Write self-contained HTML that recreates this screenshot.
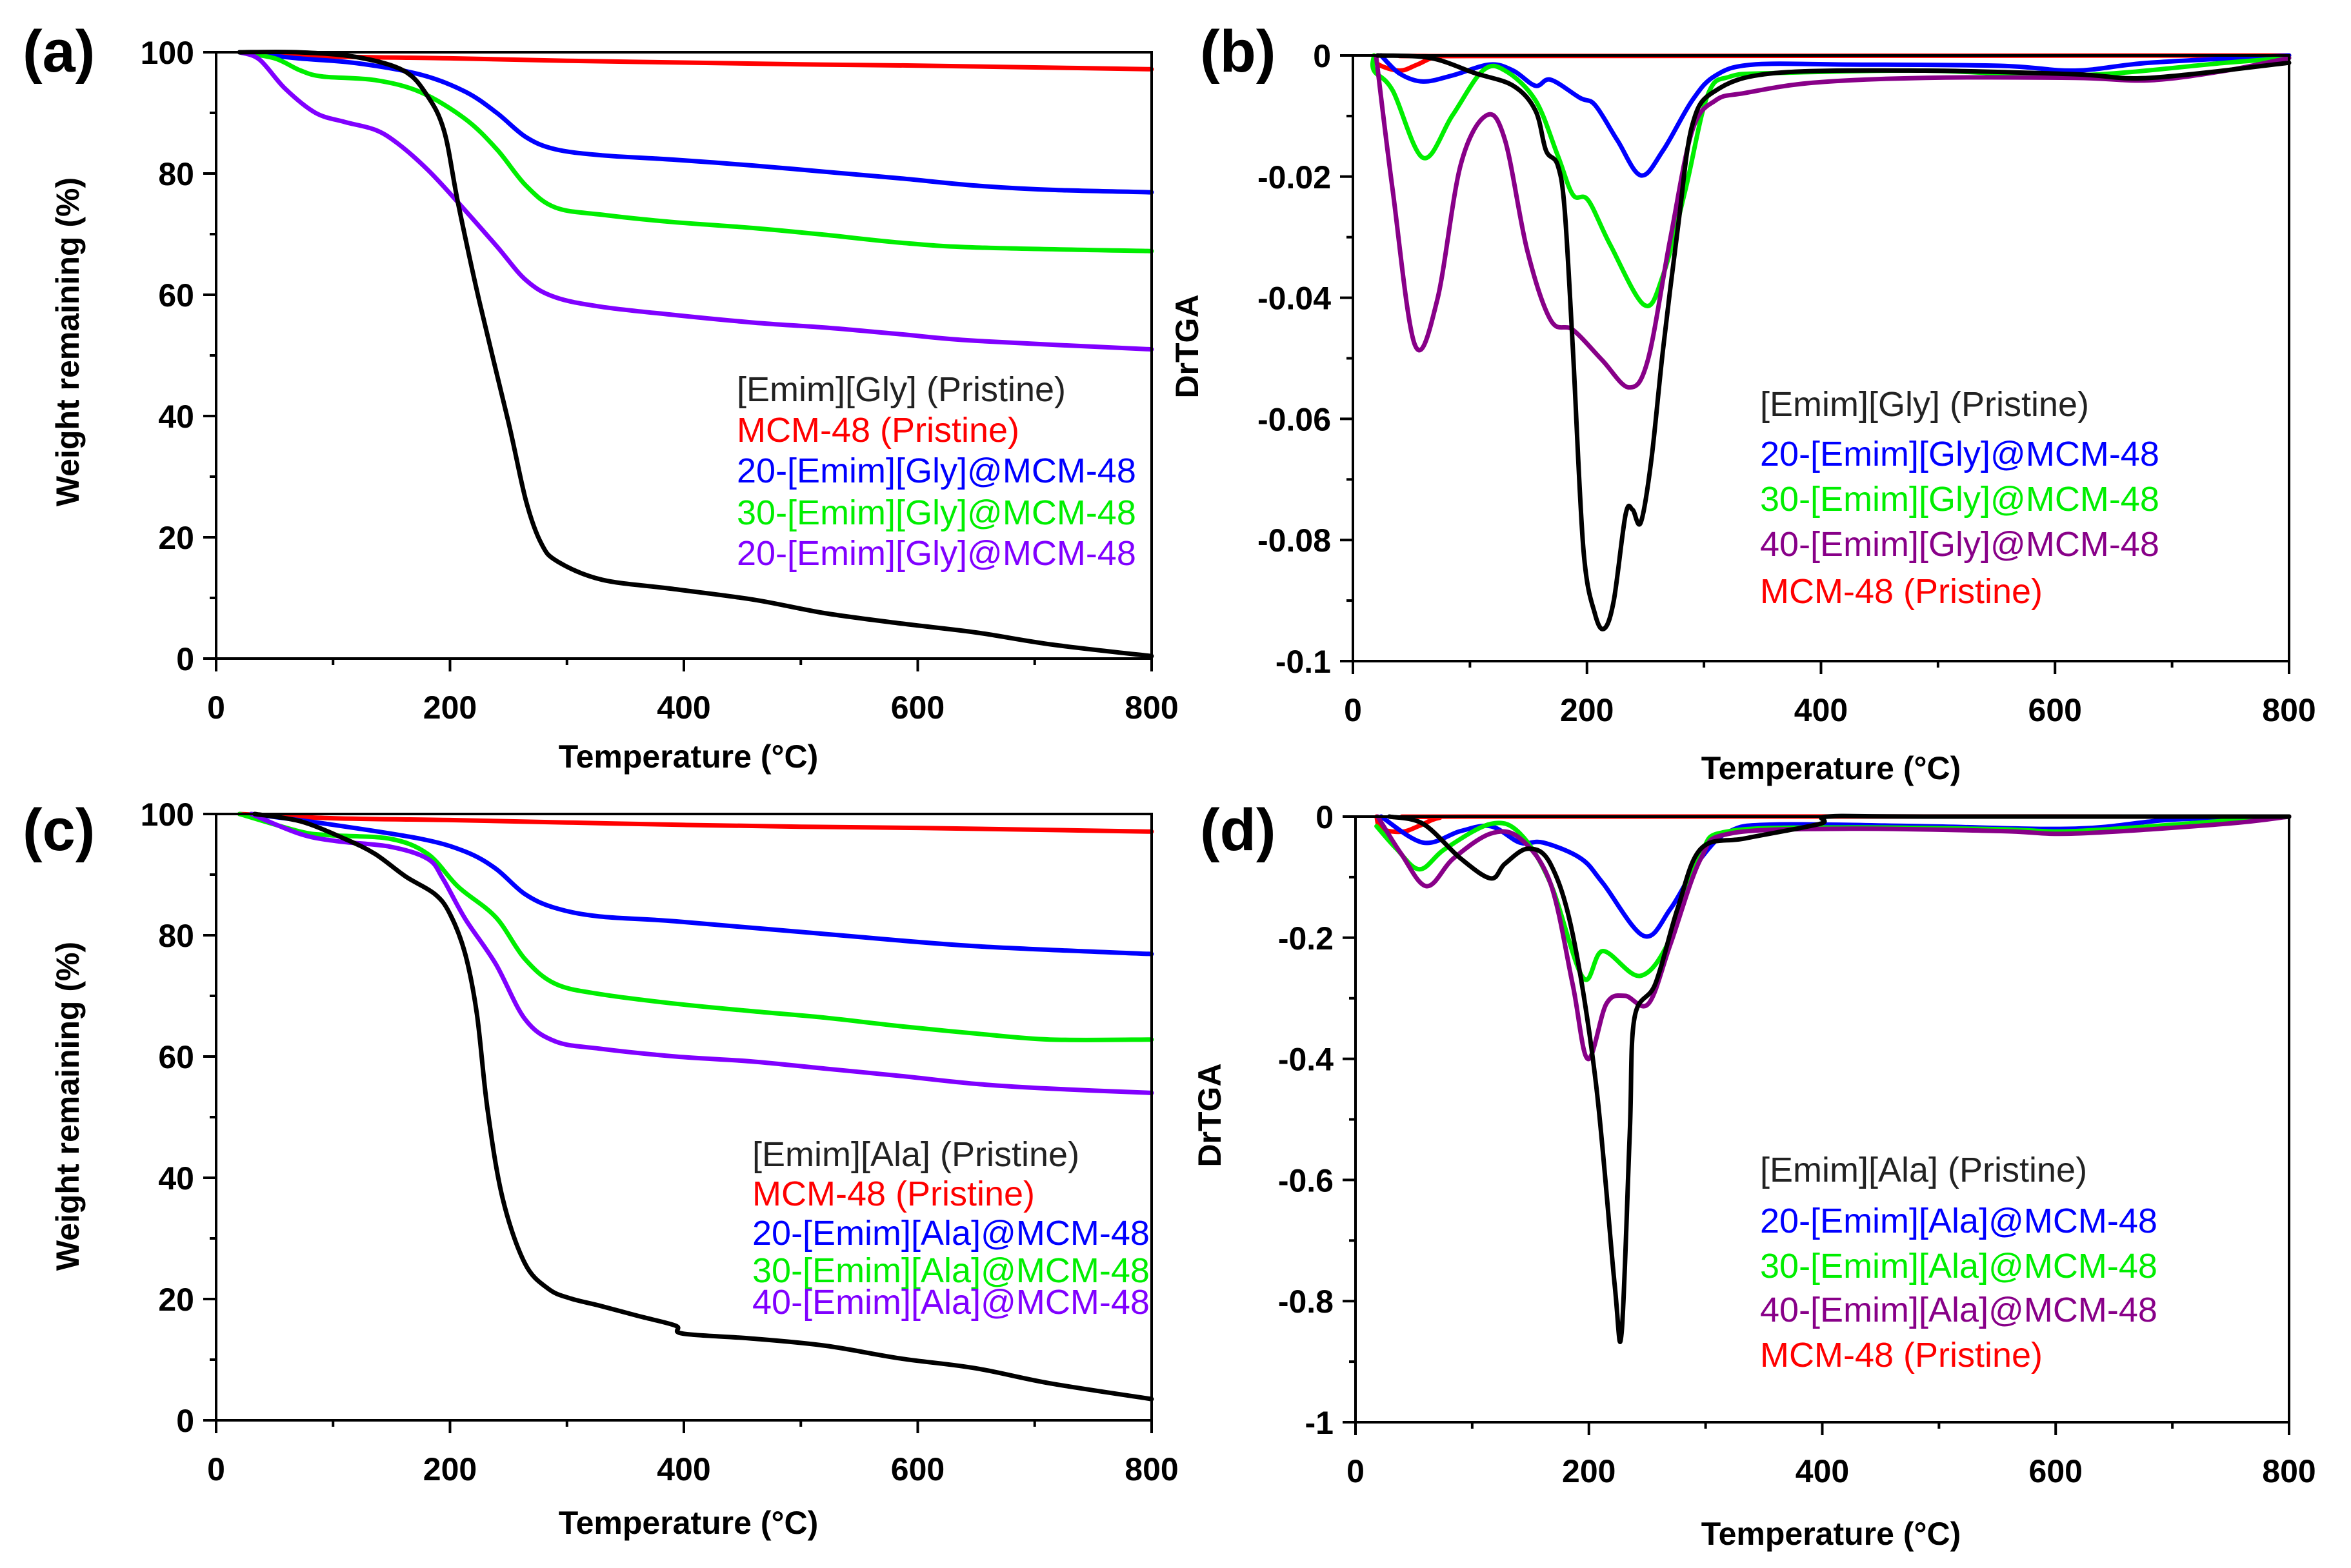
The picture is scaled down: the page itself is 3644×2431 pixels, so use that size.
<!DOCTYPE html>
<html><head><meta charset="utf-8"><style>
html,body{margin:0;padding:0;background:#fff;}
svg{display:block;font-family:"Liberation Sans",Arial,sans-serif;}
</style></head><body>
<svg id="fig" width="3644" height="2431" viewBox="0 0 3644 2431" xmlns="http://www.w3.org/2000/svg"></svg>
<script>
// ---- Panel (a) data: TGA [Emim][Gly] ----
const aBlack=[[20,100],[70,100],[120,99.2],[160,97],[180,93],[195,87],[207,75],[225,59],[250,39],[265,26],[278,19],[292,16],[330,13],[390,11.5],[460,9.7],[520,7.5],[585,5.8],[650,4.3],[715,2.3],[800,0.4]];
const aRed=[[20,100],[100,99.3],[200,99],[300,98.6],[400,98.3],[500,98],[600,97.8],[700,97.5],[800,97.2]];
const aBlue=[[20,100],[70,99],[120,98.2],[175,96.3],[213,93.5],[240,90],[265,86],[290,84],[330,83],[390,82.3],[460,81.3],[520,80.3],[585,79.2],[650,78],[715,77.3],[800,76.9]];
const aGreen=[[20,100],[50,99],[72,97],[91,96],[136,95.4],[175,93.4],[213,89],[240,84],[265,78],[290,74.4],[330,73.2],[390,72],[460,71],[520,69.9],[585,68.6],[650,67.8],[800,67.2]];
const aPurple=[[20,100],[37,98.8],[59,94],[85,90],[110,88.5],[136,87.2],[155,85],[181,80.6],[207,75.2],[240,68],[265,62.4],[290,59.6],[330,58],[390,56.7],[460,55.4],[520,54.6],[585,53.5],[650,52.4],[800,51]];
// ---- Panel (b) data: DrTGA [Emim][Gly] ----
const bRed=[[18,0],[22,-0.0015],[40,-0.0025],[55,-0.0015],[72,-0.0002],[100,-0.0001],[800,0]];
const bBlue=[[24,0],[40,-0.003],[60,-0.0043],[85,-0.0033],[117,-0.0015],[137,-0.0025],[156,-0.005],[169,-0.004],[194,-0.007],[207,-0.0082],[226,-0.014],[246,-0.0198],[265,-0.0157],[290,-0.0074],[310,-0.0033],[342,-0.0015],[425,-0.0015],[553,-0.0017],[617,-0.0025],[681,-0.0012],[800,0]];
const bGreen=[[18,0],[18,-0.0025],[34,-0.0058],[60,-0.0169],[85,-0.0099],[111,-0.0025],[130,-0.0025],[156,-0.0074],[175,-0.0165],[188,-0.023],[201,-0.0239],[220,-0.0313],[249,-0.0412],[265,-0.0363],[284,-0.0223],[303,-0.0066],[322,-0.0035],[361,-0.0029],[489,-0.0025],[617,-0.0033],[746,-0.0012],[800,-0.0004]];
const bPurple=[[20,-0.0004],[34,-0.0223],[53,-0.0478],[72,-0.0404],[92,-0.0181],[114,-0.0099],[130,-0.014],[149,-0.0322],[169,-0.0437],[188,-0.0453],[213,-0.0503],[236,-0.0548],[252,-0.0503],[271,-0.0305],[290,-0.0124],[310,-0.0074],[335,-0.0062],[393,-0.0045],[489,-0.0037],[617,-0.0037],[681,-0.0041],[746,-0.0025],[800,-0.0004]];
const bBlack=[[21,0],[66,-0.0004],[104,-0.0029],[137,-0.005],[156,-0.0091],[165,-0.0157],[175,-0.0181],[181,-0.0256],[188,-0.0486],[197,-0.0816],[207,-0.0923],[215,-0.0946],[223,-0.0899],[233,-0.0758],[239,-0.075],[246,-0.0771],[255,-0.0668],[265,-0.0486],[278,-0.028],[290,-0.0115],[310,-0.0058],[361,-0.0029],[489,-0.0025],[617,-0.0031],[681,-0.0037],[800,-0.0012]];
// ---- Panel (c) data: TGA [Emim][Ala] ----
const cRed=[[20,100],[100,99.3],[200,99],[300,98.6],[400,98.2],[500,97.9],[600,97.7],[700,97.4],[800,97.1]];
const cBlue=[[30,100],[97,98.3],[175,95.9],[213,93.8],[239,91],[264,86.8],[290,84.5],[328,83.1],[393,82.3],[521,80.2],[649,78.2],[800,76.9]];
const cGreen=[[20,100],[72,97.1],[97,96.5],[149,95.9],[181,93.4],[207,88],[239,83],[264,76.1],[290,72],[328,70.3],[393,68.7],[457,67.5],[521,66.4],[585,65],[649,63.8],[713,62.8],[800,62.8]];
const cPurple=[[30,100],[72,96.7],[104,95.5],[149,94.6],[181,92.6],[194,89.3],[213,82.7],[239,75.3],[264,66.2],[290,62.5],[328,61.3],[393,60],[457,59.2],[521,58],[585,56.8],[649,55.5],[713,54.7],[800,54]];
const cBlack=[[33,100],[72,98.8],[110,95.9],[136,93.4],[162,89.7],[187,86.8],[200,83.5],[213,76.9],[223,67],[232,51.4],[245,36.6],[264,25.9],[284,21.7],[303,20.1],[328,18.9],[361,17.2],[393,15.6],[399,14.3],[457,13.5],[521,12.3],[585,10.2],[649,8.6],[713,6.1],[800,3.5]];
// ---- Panel (d) data: DrTGA [Emim][Ala] ----
const dRed=[[18,0],[22,-0.02],[40,-0.025],[55,-0.015],[72,-0.002],[100,0],[800,0]];
const dBlue=[[22,0],[58,-0.043],[90,-0.024],[116,-0.016],[141,-0.043],[161,-0.043],[193,-0.069],[212,-0.11],[247,-0.197],[270,-0.152],[296,-0.069],[321,-0.024],[360,-0.013],[488,-0.016],[617,-0.02],[700,-0.005],[800,0]];
const dGreen=[[18,-0.016],[35,-0.053],[55,-0.087],[77,-0.053],[116,-0.012],[141,-0.028],[167,-0.11],[195,-0.266],[212,-0.222],[244,-0.263],[270,-0.201],[296,-0.061],[321,-0.024],[424,-0.018],[553,-0.021],[617,-0.024],[745,-0.007],[800,0]];
const dPurple=[[19,0],[39,-0.061],[61,-0.115],[84,-0.069],[116,-0.028],[141,-0.036],[167,-0.11],[186,-0.276],[199,-0.4],[215,-0.309],[231,-0.296],[251,-0.309],[270,-0.21],[296,-0.069],[321,-0.028],[424,-0.02],[553,-0.024],[617,-0.028],[745,-0.012],[800,0]];
const dBlack=[[29,0],[58,-0.012],[90,-0.069],[116,-0.102],[128,-0.078],[148,-0.053],[167,-0.078],[186,-0.193],[206,-0.44],[222,-0.771],[228,-0.853],[235,-0.523],[239,-0.333],[257,-0.276],[276,-0.152],[296,-0.053],[334,-0.036],[398,-0.012],[405,0],[488,0],[800,0]];
// ---- tick labels ----
const xTicks=[0,200,400,600,800];
const tgaTicks=[0,20,40,60,80,100];
const bTicks=[0,-0.02,-0.04,-0.06,-0.08,-0.1];
const bTickLabels=["0","-0.02","-0.04","-0.06","-0.08","-0.1"];
const dTicks=[0,-0.2,-0.4,-0.6,-0.8,-1];
const dTickLabels=["0","-0.2","-0.4","-0.6","-0.8","-1"];

const NS="http://www.w3.org/2000/svg";
const svg=document.getElementById('fig');
function mk(tag,attrs,parent){const e=document.createElementNS(NS,tag);for(const k in attrs)e.setAttribute(k,attrs[k]);(parent||svg).appendChild(e);return e;}
function smooth(pts){
  let d='M'+pts[0][0].toFixed(1)+','+pts[0][1].toFixed(1);
  for(let i=0;i<pts.length-1;i++){
    const p0=pts[Math.max(0,i-1)],p1=pts[i],p2=pts[i+1],p3=pts[Math.min(pts.length-1,i+2)];
    const c1x=p1[0]+(p2[0]-p0[0])/6,c1y=p1[1]+(p2[1]-p0[1])/6;
    const c2x=p2[0]-(p3[0]-p1[0])/6,c2y=p2[1]-(p3[1]-p1[1])/6;
    d+=' C'+c1x.toFixed(1)+','+c1y.toFixed(1)+' '+c2x.toFixed(1)+','+c2y.toFixed(1)+' '+p2[0].toFixed(1)+','+p2[1].toFixed(1);
  }
  return d;
}

function panel(cfg){
  const g=mk('g',{});
  
  
  const L=cfg.box[0],T=cfg.box[1],R=cfg.box[2],B=cfg.box[3];
  const xs=v=>L+(v-0)/800*(R-L);
  const ys=v=>B-(v-cfg.ymin)/(cfg.ymax-cfg.ymin)*(B-T);
  cfg.series.forEach(s=>{
    const pts=s.data.map(d=>[xs(d[0]),ys(d[1])]);
    const p=mk('path',{d:smooth(pts),fill:'none',stroke:s.color,'stroke-width':7,'stroke-linejoin':'round','stroke-linecap':'round'},g);
    
    
  });
  const fr=mk('rect',{x:L,y:T,width:R-L,height:B-T,fill:'none',stroke:'#000','stroke-width':4},g);
  
  
  for(let v=0;v<=800;v+=100){
    const major=v%200===0;
    mk('line',{x1:xs(v),x2:xs(v),y1:B,y2:B+(major?20:10),stroke:'#000','stroke-width':4},g);
  }
  xTicks.forEach(v=>{
    const t=mk('text',{x:xs(v),y:B+93,'font-size':50,'font-weight':'bold','text-anchor':'middle'},g);
    t.textContent=v;
    
    
  });
  const step=(cfg.ticks[1]-cfg.ticks[0])/2;
  for(let i=0;i<cfg.ticks.length;i++){
    const v=cfg.ticks[i];
    mk('line',{x1:L-20,x2:L,y1:ys(v),y2:ys(v),stroke:'#000','stroke-width':4},g);
    if(i<cfg.ticks.length-1){const m=v+step;mk('line',{x1:L-10,x2:L,y1:ys(m),y2:ys(m),stroke:'#000','stroke-width':4},g);}
    const t=mk('text',{x:L-34,y:ys(v)+18,'font-size':50,'font-weight':'bold','text-anchor':'end'},g);
    t.textContent=cfg.tickLabels[i];
    
    
  }
  const xt=mk('text',{x:cfg.xt[0],y:cfg.xt[1],'font-size':50,'font-weight':'bold','text-anchor':'middle'},g);
  xt.textContent='Temperature (\u00B0C)';
  
  
  const yt=mk('text',{x:0,y:0,'font-size':50,'font-weight':'bold','text-anchor':'middle',transform:'translate('+cfg.yt[0]+','+cfg.yt[1]+') rotate(-90)'},g);
  yt.textContent=cfg.ytitle;
  
  
  const pl=mk('text',{x:cfg.lab[0],y:cfg.lab[1],'font-size':92,'font-weight':'bold'},g);
  pl.textContent=cfg.label;
  
  
  cfg.legend.forEach((e,i)=>{
    const t=mk('text',{x:cfg.legX,y:cfg.legY[i]+19,'font-size':54,fill:e[1]},g);
    t.textContent=e[0];
    
    
  });
}
const K='#000',RD='#ff0000',BL='#0000ff',GR='#00ee00',VI='#8000ff',PU='#880088';
panel({name:'panel-a',box:[335,81,1785,1021],ymin:0,ymax:100,ticks:tgaTicks,tickLabels:tgaTicks.map(String),
  series:[{id:'a-red',data:aRed,color:RD},{id:'a-blue',data:aBlue,color:BL},{id:'a-green',data:aGreen,color:GR},{id:'a-purple',data:aPurple,color:VI},{id:'a-black',data:aBlack,color:K}],
  xt:[1067,1190],yt:[122,530],ytitle:'Weight remaining (%)',label:'(a)',lab:[35,111],
  legX:1142,legY:[603,666,729,794,857],
  legend:[['[Emim][Gly] (Pristine)','#222'],['MCM-48 (Pristine)',RD],['20-[Emim][Gly]@MCM-48',BL],['30-[Emim][Gly]@MCM-48',GR],['20-[Emim][Gly]@MCM-48',VI]]});
panel({name:'panel-b',box:[2097,86,3548,1025],ymin:-0.1,ymax:0,ticks:bTicks,tickLabels:bTickLabels,
  series:[{id:'b-red',data:bRed,color:RD},{id:'b-blue',data:bBlue,color:BL},{id:'b-green',data:bGreen,color:GR},{id:'b-purple',data:bPurple,color:PU},{id:'b-black',data:bBlack,color:K}],
  xt:[2838,1208],yt:[1857,537],ytitle:'DrTGA',label:'(b)',lab:[1860,111],
  legX:2728,legY:[626,703,773,843,916],
  legend:[['[Emim][Gly] (Pristine)','#222'],['20-[Emim][Gly]@MCM-48',BL],['30-[Emim][Gly]@MCM-48',GR],['40-[Emim][Gly]@MCM-48',PU],['MCM-48 (Pristine)',RD]]});
panel({name:'panel-c',box:[335,1262,1785,2202],ymin:0,ymax:100,ticks:tgaTicks,tickLabels:tgaTicks.map(String),
  series:[{id:'c-red',data:cRed,color:RD},{id:'c-blue',data:cBlue,color:BL},{id:'c-green',data:cGreen,color:GR},{id:'c-purple',data:cPurple,color:VI},{id:'c-black',data:cBlack,color:K}],
  xt:[1067,2378],yt:[122,1715],ytitle:'Weight remaining (%)',label:'(c)',lab:[35,1318],
  legX:1166,legY:[1789,1850,1911,1969,2018],
  legend:[['[Emim][Ala] (Pristine)','#222'],['MCM-48 (Pristine)',RD],['20-[Emim][Ala]@MCM-48',BL],['30-[Emim][Ala]@MCM-48',GR],['40-[Emim][Ala]@MCM-48',VI]]});
panel({name:'panel-d',box:[2101,1266,3548,2205],ymin:-1,ymax:0,ticks:dTicks,tickLabels:dTickLabels,
  series:[{id:'d-red',data:dRed,color:RD},{id:'d-blue',data:dBlue,color:BL},{id:'d-green',data:dGreen,color:GR},{id:'d-purple',data:dPurple,color:PU},{id:'d-black',data:dBlack,color:K}],
  xt:[2838,2395],yt:[1892,1729],ytitle:'DrTGA',label:'(d)',lab:[1860,1318],
  legX:2728,legY:[1813,1892,1962,2030,2100],
  legend:[['[Emim][Ala] (Pristine)','#222'],['20-[Emim][Ala]@MCM-48',BL],['30-[Emim][Ala]@MCM-48',GR],['40-[Emim][Ala]@MCM-48',PU],['MCM-48 (Pristine)',RD]]});
</script>
</body></html>
